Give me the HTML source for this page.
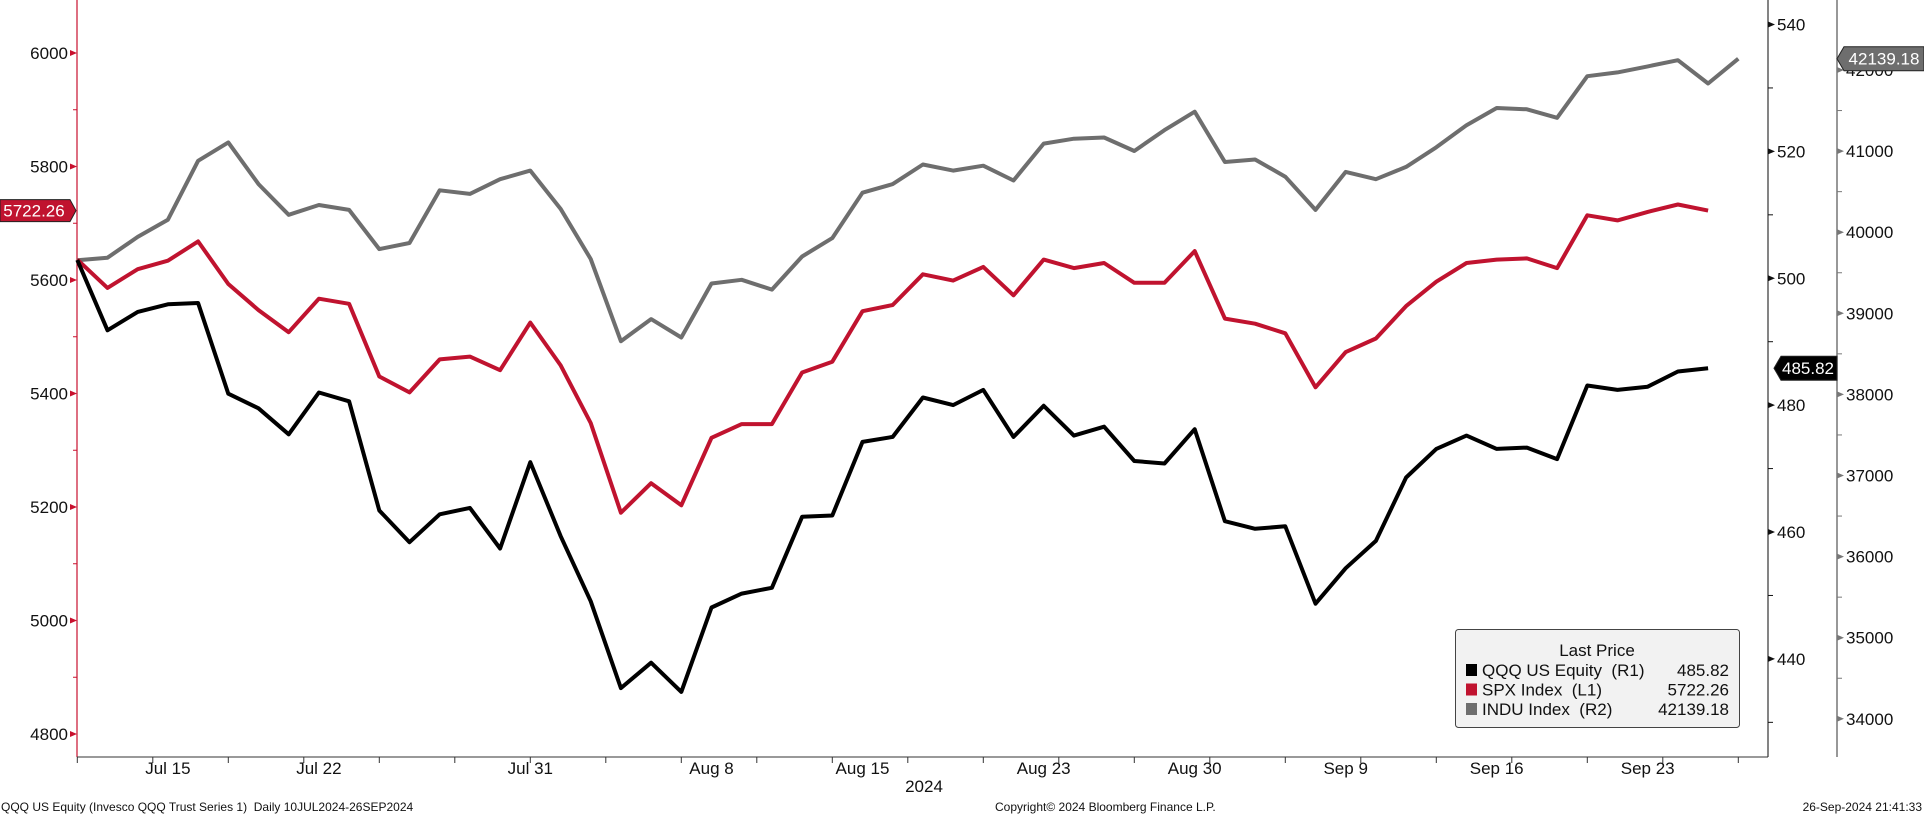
<!DOCTYPE html>
<html><head><meta charset="utf-8"><style>
html,body{margin:0;padding:0;background:#fff;}
svg{display:block;font-family:"Liberation Sans","DejaVu Sans",sans-serif;}
</style></head><body>
<svg id="chart" width="1924" height="815" viewBox="0 0 1924 815" xmlns="http://www.w3.org/2000/svg"></svg>
<script>
const qqq=[502.9,491.8,494.7,495.9,496.1,481.8,479.5,475.4,482.0,480.6,463.4,458.4,462.8,463.8,457.4,471.0,459.4,449.1,435.4,439.4,434.8,448.1,450.3,451.2,462.4,462.6,474.2,475.0,481.2,480.0,482.4,475.0,479.9,475.2,476.6,471.2,470.8,476.2,461.7,460.5,460.9,448.7,454.3,458.6,468.6,473.1,475.2,473.1,473.3,471.5,483.1,482.4,482.9,485.3,485.82];
const spx=[5636,5586,5619,5634,5668,5593,5547,5508,5567,5558,5430,5402,5460,5465,5441,5525,5450,5348,5190,5242,5203,5322,5346,5346,5437,5456,5545,5556,5610,5599,5623,5573,5636,5621,5630,5595,5595,5651,5532,5523,5506,5411,5473,5497,5554,5597,5630,5636,5638,5621,5714,5705,5720,5733,5722.26];
const indu=[39655,39685,39942,40154,40880,41107,40593,40215,40336,40275,39791,39867,40517,40472,40653,40759,40290,39670,38656,38928,38701,39367,39413,39292,39700,39927,40487,40593,40835,40759,40820,40638,41092,41153,41168,41001,41259,41486,40865,40896,40684,40275,40744,40653,40805,41047,41319,41531,41516,41410,41924,41970,42045,42121,41834,42139.18];
const xLabels=["Jul 15","Jul 22","Jul 31","Aug 8","Aug 15","Aug 23","Aug 30","Sep 9","Sep 16","Sep 23"];
const xLabelIdx=[3,8,15,21,26,32,37,42,47,52];
const leftTicks=[6000,5800,5600,5400,5200,5000,4800];
const r1Ticks=[540,520,500,480,460,440];
const r2Ticks=[42000,41000,40000,39000,38000,37000,36000,35000,34000];

const NS="http://www.w3.org/2000/svg";
const svg=document.getElementById('chart');
const X=i=>77.3+i*30.2;
const yL=v=>53+(6000-v)*0.5675;
const yR1=v=>24.5+(540-v)*6.344;
const yR2=v=>70+(42000-v)*0.0811;
function el(tag,attrs,parent){const e=document.createElementNS(NS,tag);for(const k in attrs)e.setAttribute(k,attrs[k]);(parent||svg).appendChild(e);return e;}
function txt(s,attrs,parent){const e=el('text',attrs,parent);e.textContent=s;return e;}

// axes
const ax=el('g',{});


el('line',{x1:77,y1:0,x2:77,y2:757,stroke:'#c8102e','stroke-width':1.2},ax);
el('line',{x1:77,y1:757,x2:1768,y2:757,stroke:'#333','stroke-width':1},ax);
el('line',{x1:1768,y1:0,x2:1768,y2:757,stroke:'#333','stroke-width':1.2},ax);
el('line',{x1:1837,y1:0,x2:1837,y2:757,stroke:'#777','stroke-width':1.5},ax);

leftTicks.forEach(v=>{const y=yL(v);
 el('path',{d:`M70 ${y-3} L77 ${y} L70 ${y+3}Z`,fill:'#c8102e'},ax);
 const t=txt(String(v),{x:68,y:y+6,'text-anchor':'end','font-size':17,fill:'#111'},ax);
 
 if(v>4800){const ym=yL(v-100);el('line',{x1:73,y1:ym,x2:77,y2:ym,stroke:'#c8102e'},ax);}
});
r1Ticks.forEach(v=>{const y=yR1(v);
 el('path',{d:`M1768 ${y-3} L1775 ${y} L1768 ${y+3}Z`,fill:'#111'},ax);
 const t=txt(String(v),{x:1777,y:y+6,'font-size':17,fill:'#111'},ax);
 
 const ym=yR1(v-10);if(ym<757)el('line',{x1:1768,y1:ym,x2:1773,y2:ym,stroke:'#111'},ax);
});
r2Ticks.forEach(v=>{const y=yR2(v);
 el('path',{d:`M1837 ${y-3} L1844 ${y} L1837 ${y+3}Z`,fill:'#777'},ax);
 const t=txt(String(v),{x:1846,y:y+6,'font-size':17,fill:'#111'},ax);
 
 const ym=yR2(v-500);if(ym<757)el('line',{x1:1837,y1:ym,x2:1842,y2:ym,stroke:'#777'},ax);
});
for(let i=0;i<=58;i+=2.5){const x=X(i);if(x<1768)el('line',{x1:x,y1:757,x2:x,y2:763,stroke:'#333'},ax);}
xLabels.forEach((s,k)=>{const t=txt(s,{x:X(xLabelIdx[k]),y:774,'text-anchor':'middle','font-size':17,fill:'#111'},ax);
 });
const yr=txt('2024',{x:924,y:792,'text-anchor':'middle','font-size':17,fill:'#111'});


function line(data,yf,color,name){const d=data.map((v,i)=>(i?'L':'M')+X(i).toFixed(1)+' '+yf(v).toFixed(1)).join(' ');
 const p=el('path',{d:d,fill:'none',stroke:color,'stroke-width':4,'stroke-linejoin':'round'});
 }
line(indu,yR2,'#6e6e6e','indu-line');
line(spx,yL,'#c0132f','spx-line');
line(qqq,yR1,'#000','qqq-line');

// price tags
function tag(d,fill,label,tx,ty,anchor,name){const g=el('g',{});
 el('path',{d:d,fill:fill,stroke:'#222','stroke-width':1},g);txt(label,{x:tx,y:ty,'text-anchor':anchor,'font-size':17,fill:'#fff'},g);}
const ys=yL(spx[spx.length-1]);
tag(`M0 ${ys-11} L70 ${ys-11} L76 ${ys} L70 ${ys+11} L0 ${ys+11}Z`,'#c0132f',spx[spx.length-1].toFixed(2),34,ys+6,'middle','spx-last-tag');
const yq=yR1(qqq[qqq.length-1]);
tag(`M1774 ${yq} L1781 ${yq-12} L1837 ${yq-12} L1837 ${yq+12} L1781 ${yq+12}Z`,'#000',qqq[qqq.length-1].toFixed(2),1808,yq+6,'middle','qqq-last-tag');
const yi=yR2(indu[indu.length-1]);
tag(`M1837 ${yi} L1844 ${yi-12} L1924 ${yi-12} L1924 ${yi+12} L1844 ${yi+12}Z`,'#6e6e6e',indu[indu.length-1].toFixed(2),1884,yi+6,'middle','indu-last-tag');

// legend
const lg=el('g',{});
el('rect',{x:1455.5,y:629.5,width:284,height:98,rx:3,fill:'#f2f2f2',stroke:'#444'},lg);
txt('Last Price',{x:1597,y:656,'text-anchor':'middle','font-size':17,fill:'#111'},lg);
[['QQQ US Equity  (R1)','485.82','#000'],['SPX Index  (L1)','5722.26','#c0132f'],['INDU Index  (R2)','42139.18','#6e6e6e']].forEach((r,k)=>{
 const y=676+k*19.5;const g=el('g',{},lg);
 el('rect',{x:1466,y:y-12,width:11,height:12,fill:r[2]},g);
 txt(r[0],{x:1482,y:y,'font-size':17,fill:'#111','xml:space':'preserve'},g).setAttribute('style','white-space:pre');
 txt(r[1],{x:1729,y:y,'text-anchor':'end','font-size':17,fill:'#111'},g);
});

// footer
const f1=txt('QQQ US Equity (Invesco QQQ Trust Series 1)  Daily 10JUL2024-26SEP2024',{x:1,y:811,'font-size':12,fill:'#111'});
f1.setAttribute('style','white-space:pre');
const f2=txt('Copyright© 2024 Bloomberg Finance L.P.',{x:995,y:811,'font-size':12,fill:'#111'});

const f3=txt('26-Sep-2024 21:41:33',{x:1922,y:811,'text-anchor':'end','font-size':12,fill:'#111'});

</script>
</body></html>
